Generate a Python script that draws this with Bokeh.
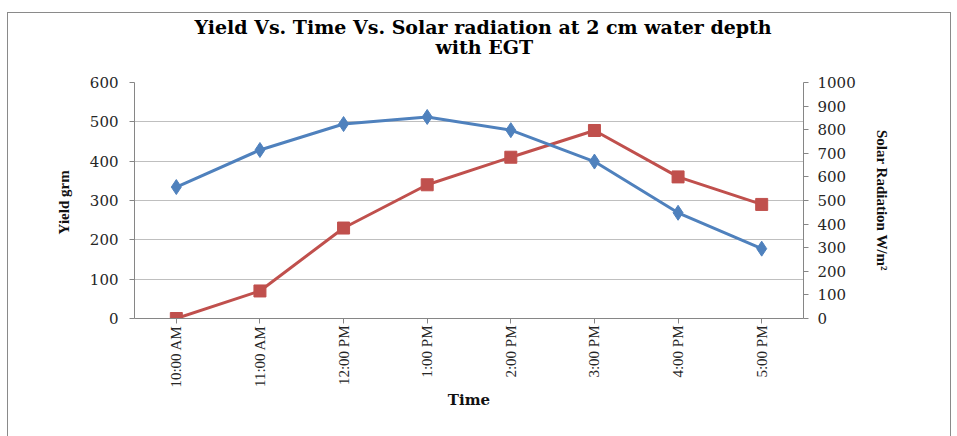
import math
from bokeh.plotting import figure
from bokeh.models import Range1d, LinearAxis, FixedTicker, Legend, LegendItem, Title
from bokeh.embed import file_html
from bokeh.resources import INLINE

times = ["10:00 AM", "11:00 AM", "12:00 PM", "1:00 PM", "2:00 PM", "3:00 PM", "4:00 PM", "5:00 PM"]
yield_grm = [0, 70, 230, 340, 410, 478, 360, 290]
solar_radiation = [557, 714, 824, 854, 798, 665, 448, 296]
yield_ticks = [0, 100, 200, 300, 400, 500, 600]
solar_ticks = [0, 100, 200, 300, 400, 500, 600, 700, 800, 900, 1000]
title_lines = ["Yield Vs. Time Vs. Solar radiation at 2 cm water depth", "with EGT"]

RED = "#C0504D"
BLUE = "#4F81BD"
AXIS = "#868686"
GRID = "#BFBFBF"

p = figure(x_range=times, y_range=Range1d(0, 600), frame_width=669, frame_height=236,
           output_backend="svg", toolbar_location=None, title=None,
           min_border_left=126, min_border_right=147, min_border_top=69, min_border_bottom=123)
p.styles = {"border": "1px solid #8a8a8a", "margin-left": "7px", "margin-top": "12px"}
p.outline_line_color = None

# blank gap between plot area and the two title lines
gap = Title(text="\u00a0", align="left", standoff=12, text_font="DejaVu Serif",
            text_font_size="10px", text_color="#ffffff")
t2 = Title(text=title_lines[1], align="left", offset=301, standoff=0,
           text_font="DejaVu Serif", text_font_style="bold", text_font_size="19px",
           text_color="#000000")
t1 = Title(text=title_lines[0], align="left", offset=60, standoff=-9,
           text_font="DejaVu Serif", text_font_style="bold", text_font_size="19px",
           text_color="#000000")
p.add_layout(gap, "above")
p.add_layout(t2, "above")
p.add_layout(t1, "above")

p.extra_y_ranges = {"solar": Range1d(0, 1000)}
right = LinearAxis(y_range_name="solar", ticker=FixedTicker(ticks=solar_ticks))
right.axis_label = "Solar Radiation W/m²"
p.add_layout(right, "right")

left = p.left[0]
left.ticker = FixedTicker(ticks=yield_ticks)
left.axis_label = "Yield  grm"

xa = p.below[0]

for ax in [left, right, xa]:
    ax.axis_line_color = AXIS
    ax.major_tick_line_color = AXIS
    ax.minor_tick_line_color = None
    ax.major_tick_out = 5
    ax.major_tick_in = 0
    ax.major_label_text_color = "#262626"
    ax.axis_label_text_color = "#111111"
    ax.axis_label_text_font_style = "bold"

for ax in [left, right]:
    ax.major_label_text_font = "DejaVu Serif"
    ax.major_label_text_font_size = "15px"
    ax.axis_label_text_font = "Liberation Serif"
    ax.axis_label_text_font_size = "15px"

left.major_label_standoff = 11
left.axis_label_standoff = 15
right.major_label_standoff = 9
right.axis_label_standoff = 15

xa.major_label_orientation = math.pi / 2
xa.major_label_text_font = "Liberation Serif"
xa.major_label_text_font_size = "15px"
xa.major_label_standoff = 2
xa.axis_label = "Time"
xa.axis_label_text_font = "DejaVu Serif"
xa.axis_label_text_font_size = "15px"
xa.axis_label_standoff = 0

p.xgrid.grid_line_color = None
p.ygrid.grid_line_color = GRID
p.ygrid.ticker = FixedTicker(ticks=yield_ticks)

l1 = p.line(times, yield_grm, line_color=RED, line_width=3)
s1 = p.scatter(times, yield_grm, marker="square", size=12, fill_color=RED, line_color=RED)
l2 = p.line(times, solar_radiation, line_color=BLUE, line_width=3, y_range_name="solar")
s2 = p.scatter(times, solar_radiation, marker="diamond", size=15, fill_color=BLUE, line_color=BLUE,
               y_range_name="solar")

legend = Legend(items=[LegendItem(label="yield", renderers=[l1, s1]),
                       LegendItem(label="Solar Radiation", renderers=[l2, s2])],
                orientation="horizontal", location="top_center", spacing=66,
                glyph_width=46, glyph_height=14, label_height=14, label_standoff=3,
                padding=0, margin=0, border_line_color=None, background_fill_alpha=0)
try:
    legend.margin = -18
except Exception:
    legend.margin = 0
legend.label_text_font = "DejaVu Serif"
legend.label_text_font_size = "15px"
legend.label_text_color = "#262626"
p.add_layout(legend, "below")

open("out.html", "w").write(file_html(p, INLINE))
